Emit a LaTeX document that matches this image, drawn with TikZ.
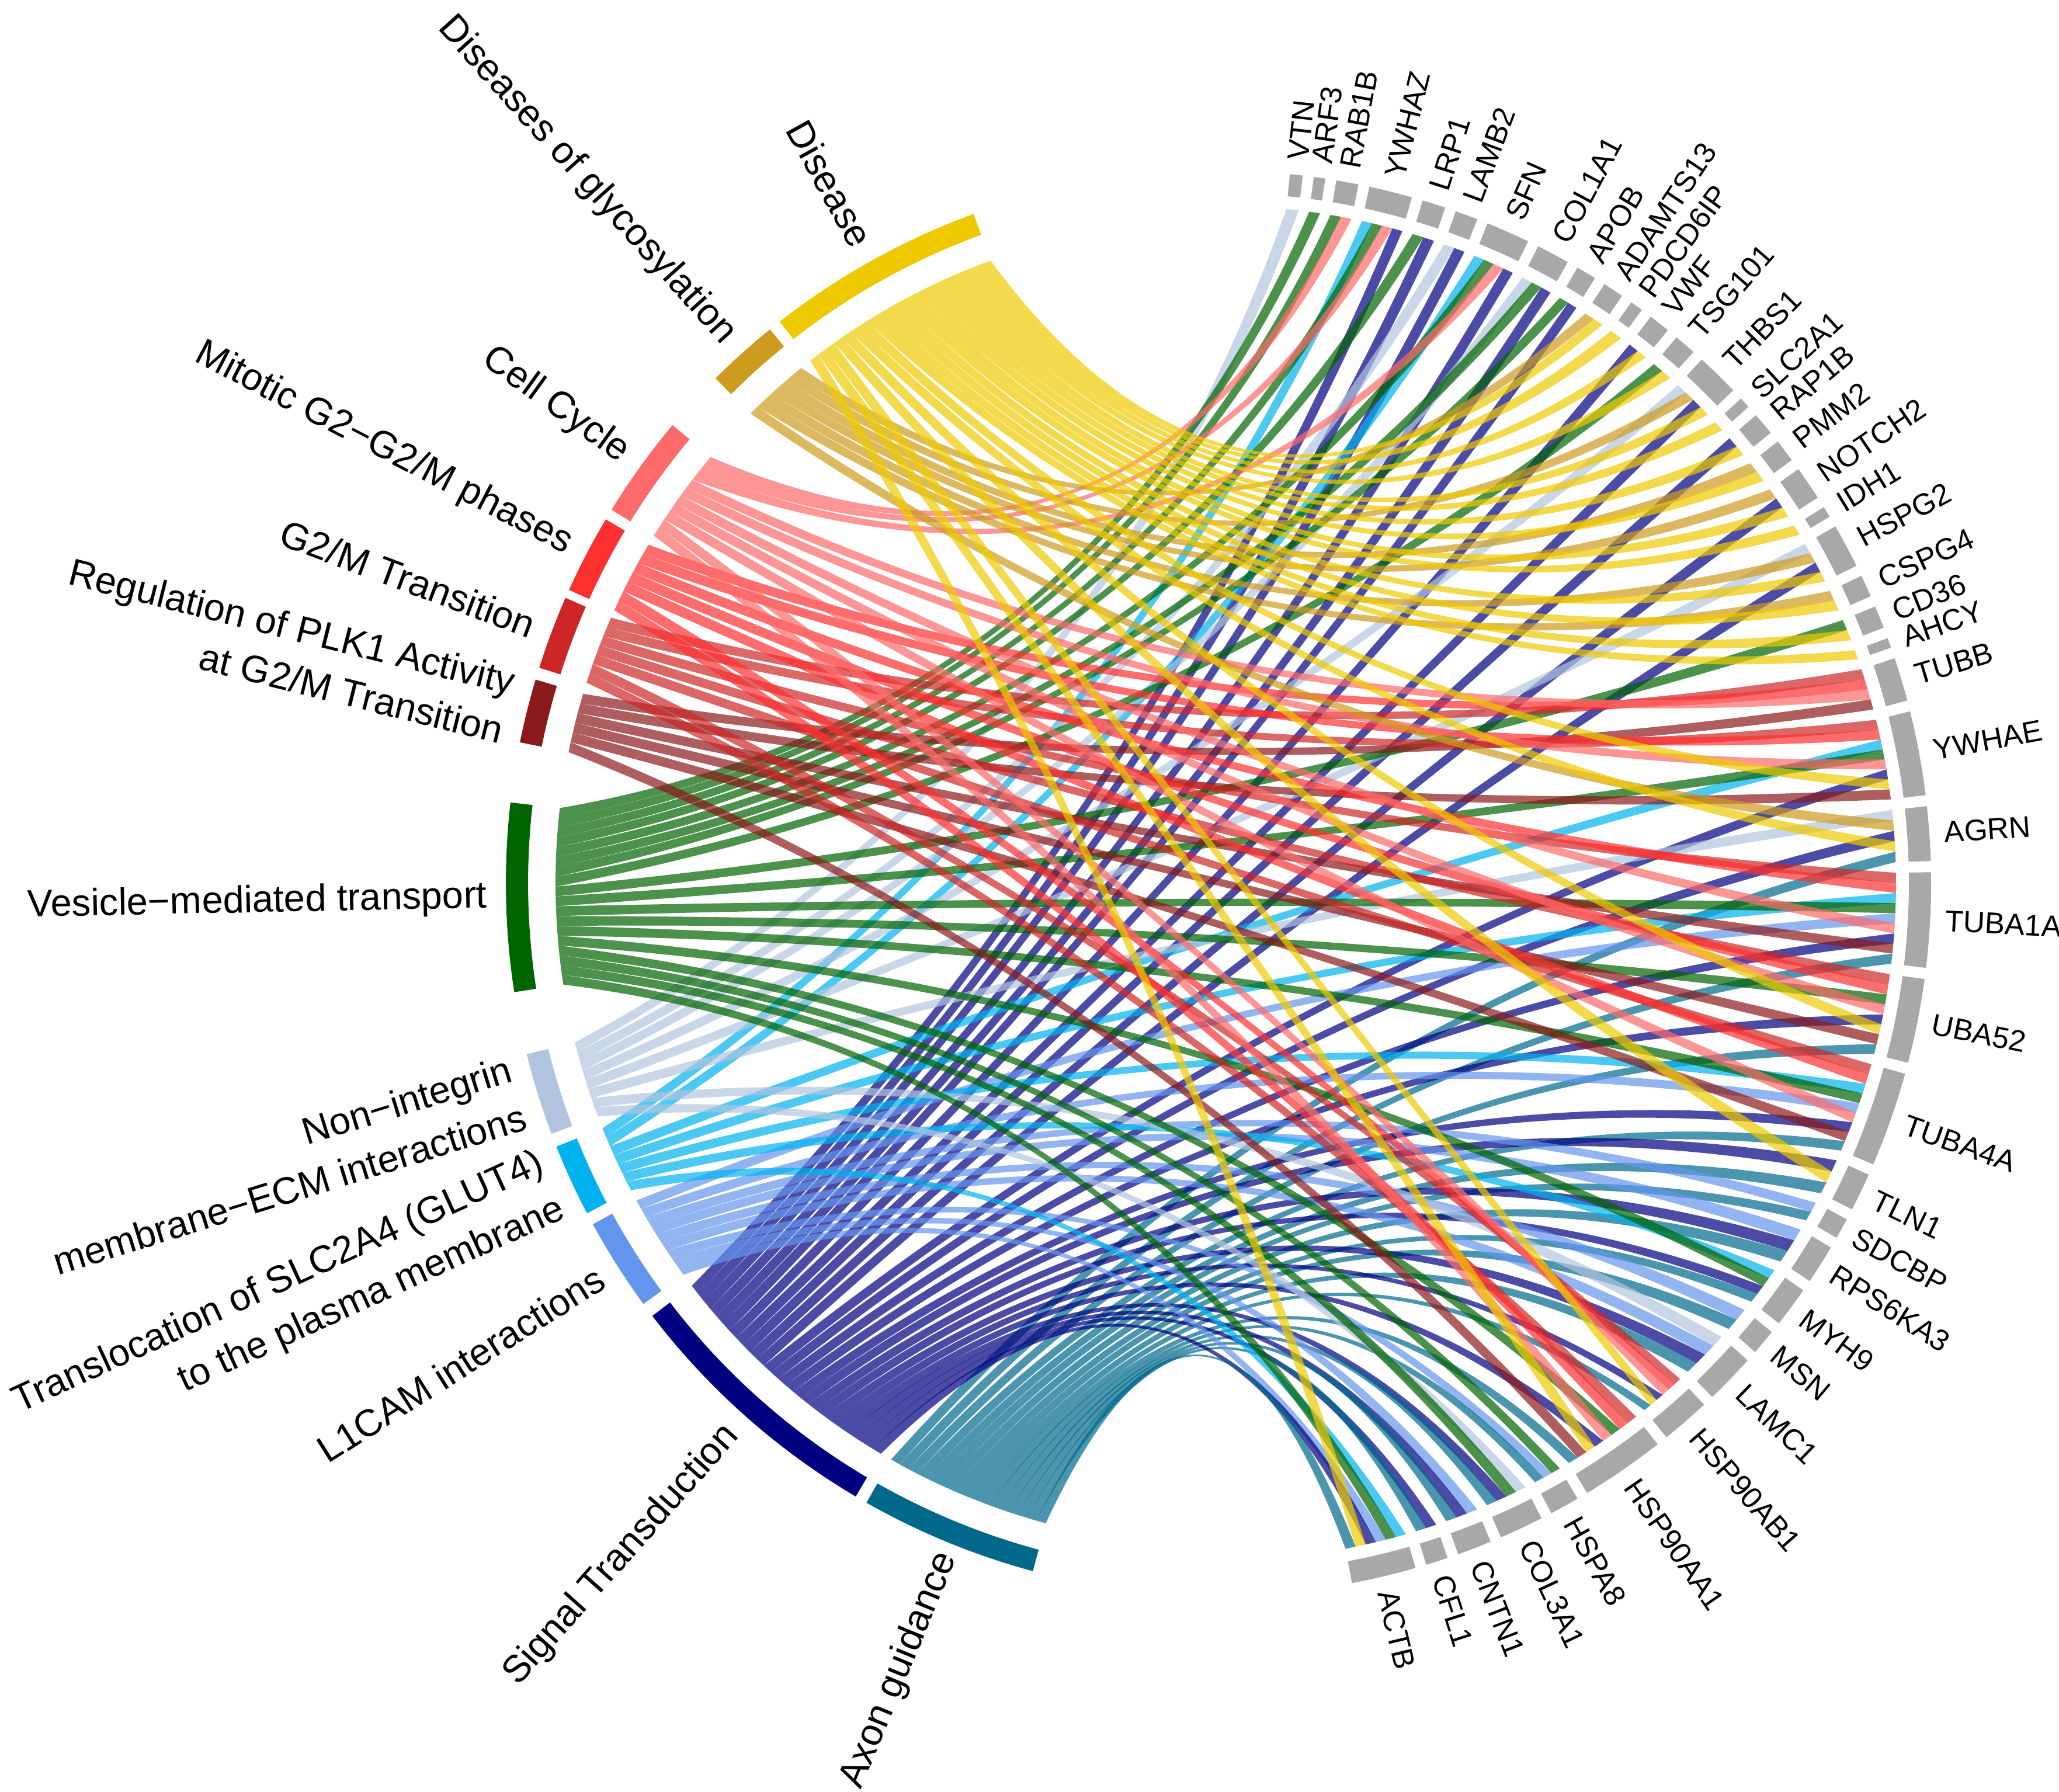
\documentclass[tikz,border=0pt]{standalone}
\usepackage{fontspec}
\setmainfont{Liberation Sans}

% sector colours (pathways) and gene ring
\definecolor{colDis}{HTML}{EEC900}
\definecolor{colGly}{HTML}{CD9B1D}
\definecolor{colCC}{HTML}{FF6A6A}
\definecolor{colMit}{HTML}{FF3030}
\definecolor{colGM}{HTML}{CD2626}
\definecolor{colPLK}{HTML}{8B1A1A}
\definecolor{colVes}{HTML}{006400}
\definecolor{colNI}{HTML}{B0C4DE}
\definecolor{colTr}{HTML}{00B2EE}
\definecolor{colLC}{HTML}{6495ED}
\definecolor{colSig}{HTML}{000080}
\definecolor{colAx}{HTML}{00688B}
\definecolor{genegrey}{HTML}{A8A8A8}

\tikzset{
  genelabel/.style={anchor=west, inner sep=0pt, font=\fontsize{14.6}{17}\selectfont},
  pathlabel/.style={anchor=east, inner sep=0pt, align=right, font=\fontsize{18.5}{24.5}\selectfont},
  ribbon/.style={fill opacity=0.7}
}

\def\ro{12.20}  % ring outer
\def\ri{11.82}  % ring inner
\def\rg{11.60}  % link end, gene side
\def\rp{11.35}  % link end, pathway side
\def\kb{0.45}   % pull of the links to the centre

% #1,#2 pathway slot  #3,#4 gene slot  #5 colour
\newcommand{\chordribbon}[5]{%
  \pgfmathsetmacro\rAx{\rp*cos(#2)}\pgfmathsetmacro\rAy{\rp*sin(#2)}%
  \pgfmathsetmacro\rBx{\rg*cos(#3)}\pgfmathsetmacro\rBy{\rg*sin(#3)}%
  \pgfmathsetmacro\rCx{\rg*cos(#4)}\pgfmathsetmacro\rCy{\rg*sin(#4)}%
  \pgfmathsetmacro\rDx{\rp*cos(#1)}\pgfmathsetmacro\rDy{\rp*sin(#1)}%
  \fill[ribbon, #5] (\rDx,\rDy) arc[start angle=#1, end angle=#2, radius=\rp]
    .. controls ({((1+\kb)*\rAx+\kb*\rBx)/3},{((1+\kb)*\rAy+\kb*\rBy)/3})
    and ({((1+\kb)*\rBx+\kb*\rAx)/3},{((1+\kb)*\rBy+\kb*\rAy)/3}) .. (\rBx,\rBy)
    arc[start angle=#3, end angle=#4, radius=\rg]
    .. controls ({((1+\kb)*\rCx+\kb*\rDx)/3},{((1+\kb)*\rCy+\kb*\rDy)/3})
    and ({((1+\kb)*\rDx+\kb*\rCx)/3},{((1+\kb)*\rDy+\kb*\rCy)/3}) .. (\rDx,\rDy) -- cycle;
}

\begin{document}
\begin{tikzpicture}
\useasboundingbox (0,0) rectangle (35.25,30.67);
\begin{scope}[shift={(20.86,15.55)}]

% pathway sectors: code/start/end/number of links
\foreach \pcode/\plo/\pend/\pn in {Dis/110.1/128.0/21, Gly/129.0/134.9/7,
    CC/140.0/148.4/10, Mit/149.3/155.7/7, GM/156.4/162.4/7, PLK/163.4/168.6/6,
    Ves/173.5/188.8/18, NI/193.9/200.6/8, Tr/201.7/207.6/7, LC/208.6/216.2/9,
    Sig/217.4/239.4/26, Ax/240.4/254.9/17}{
  \fill[col\pcode] (\plo:\ro) arc[start angle=\plo, end angle=\pend, radius=\ro]
    -- (\pend:\ri) arc[start angle=\pend, end angle=\plo, radius=\ri] -- cycle;
  \pgfmathsetmacro\pwid{(\pend-\plo)/\pn}
  \expandafter\xdef\csname plo@\pcode\endcsname{\plo}
  \expandafter\xdef\csname pw@\pcode\endcsname{\pwid}
  \expandafter\xdef\csname pc@\pcode\endcsname{0}
}

% genes: name/start/end/linked pathways
\foreach \gname/\ghi/\glo/\glinks in {
    VTN/84.25/83.21/{NI}, ARF3/82.31/81.38/{Ves}, RAB1B/80.48/78.67/{Ves,CC},
    YWHAZ/77.77/74.25/{Tr,Ves,CC,Sig}, LRP1/73.35/71.45/{Ves,Sig},
    LAMB2/70.55/68.71/{NI,Sig}, SFN/67.81/64.25/{Tr,Ves,CC,Sig},
    COL1A1/63.35/60.65/{NI,Ves,Sig}, APOB/59.75/58.11/{Ves,Sig},
    ADAMTS13/57.21/55.50/{Gly,Dis}, PDCD6IP/54.60/53.55/{Dis},
    VWF/52.65/50.90/{Sig,Dis}, TSG101/50.00/48.20/{Ves,Dis},
    THBS1/47.30/43.75/{NI,Gly,Sig,Dis}, SLC2A1/42.85/41.95/{Dis},
    RAP1B/41.05/39.20/{Sig,Dis}, PMM2/38.30/36.43/{Gly,Dis},
    NOTCH2/35.53/32.75/{Gly,Sig,Dis}, IDH1/31.85/30.95/{Dis},
    HSPG2/30.05/26.45/{NI,Gly,Sig,Dis}, CSPG4/25.55/23.75/{Gly,Dis},
    CD36/22.85/21.01/{Ves,Dis}, AHCY/20.11/19.30/{Dis},
    TUBB/18.40/14.85/{GM,Mit,CC,PLK},
    YWHAE/13.95/7.10/{GM,Mit,Tr,Ves,CC,Sig,Dis,PLK},
    AGRN/6.20/1.78/{NI,Gly,Sig,Dis,Ax},
    TUBA1A/0.88/-6.83/{GM,Mit,Tr,Ves,LC,CC,Sig,PLK,Ax},
    UBA52/-7.73/-14.61/{GM,Mit,Ves,CC,Sig,Dis,PLK,Ax},
    TUBA4A/-15.51/-23.25/{GM,Mit,Tr,Ves,LC,CC,Sig,PLK,Ax},
    TLN1/-24.15/-27.25/{Sig,Dis,Ax}, SDCBP/-28.15/-29.85/{LC,Ax},
    RPS6KA3/-30.75/-33.95/{LC,Sig,Ax}, MYH9/-34.85/-38.15/{Tr,Ves,Sig,Ax},
    MSN/-39.05/-41.15/{LC,Ax}, LAMC1/-42.05/-46.15/{NI,LC,Sig,Ax},
    HSP90AB1/-47.05/-51.05/{GM,Mit,CC,Sig,Dis,Ax},
    HSP90AA1/-51.95/-58.85/{GM,Mit,Ves,CC,Sig,Dis,PLK,Ax},
    HSPA8/-59.75/-62.15/{Ves,LC,Ax}, COL3A1/-63.05/-66.65/{NI,Ves,Sig,Ax},
    CNTN1/-67.55/-70.35/{LC,Sig,Ax}, CFL1/-71.25/-73.05/{Sig,Ax},
    ACTB/-73.95/-79.20/{Tr,Ves,LC,Sig,Dis,Ax}}{
  \fill[genegrey] (\glo:\ro) arc[start angle=\glo, end angle=\ghi, radius=\ro]
    -- (\ghi:\ri) arc[start angle=\ghi, end angle=\glo, radius=\ri] -- cycle;
  \pgfmathsetmacro\gmid{(\ghi+\glo)/2}
  \node[genelabel, rotate=\gmid] at (\gmid:12.45) (g-\gname) {\gname};
  \gdef\nlinks{0}
  \foreach \pcode in \glinks {\pgfmathtruncatemacro\nnext{\nlinks+1}\xdef\nlinks{\nnext}}
  \pgfmathsetmacro\gw{(\ghi-\glo)/\nlinks}
  \foreach \pcode [count=\j from 0] in \glinks {
    \pgfmathsetmacro\gtop{\ghi-\j*\gw}
    \pgfmathsetmacro\gbot{\gtop-\gw}
    \edef\pk{\csname pc@\pcode\endcsname}
    \pgfmathsetmacro\pa{\csname plo@\pcode\endcsname+\pk*\csname pw@\pcode\endcsname}
    \pgfmathsetmacro\pb{\pa+\csname pw@\pcode\endcsname}
    \pgfmathtruncatemacro\pnext{\pk+1}
    \expandafter\xdef\csname pc@\pcode\endcsname{\pnext}
    \chordribbon{\pa}{\pb}{\gbot}{\gtop}{col\pcode}
  }
}

% pathway labels
\node[pathlabel, rotate=-60.95] at (119.05:12.52) (disease) {Disease};
\node[pathlabel, rotate=-48.05] at (131.95:12.52) (glyco) {Diseases of glycosylation};
\node[pathlabel, rotate=-35.8] at (144.2:12.52) (cellcycle) {Cell Cycle};
\node[pathlabel, rotate=-27.5] at (152.5:12.52) (mitotic) {Mitotic G2−G2/M phases};
\node[pathlabel, rotate=-20.6] at (159.4:12.52) (gtwom) {G2/M Transition};
\node[pathlabel, rotate=-14] at (166:12.52) (plk) {Regulation of PLK1 Activity\\at G2/M Transition};
\node[pathlabel, rotate=1.15] at (181.15:12.52) (vesicle) {Vesicle−mediated transport};
\node[pathlabel, rotate=17.25] at (196.6:12.52) (nonint) {Non−integrin\\membrane−ECM interactions};
\node[pathlabel, rotate=24.65] at (204.4:12.52) (glut) {Translocation of SLC2A4 (GLUT4)\\to the plasma membrane};
\node[pathlabel, rotate=32.4] at (212.4:12.52) (lcam) {L1CAM interactions};
\node[pathlabel, rotate=48.4] at (228.4:12.52) (signal) {Signal Transduction};
\node[pathlabel, rotate=67.65] at (248.0:12.38) (axon) {Axon guidance};

\end{scope}
\end{tikzpicture}
\end{document}
